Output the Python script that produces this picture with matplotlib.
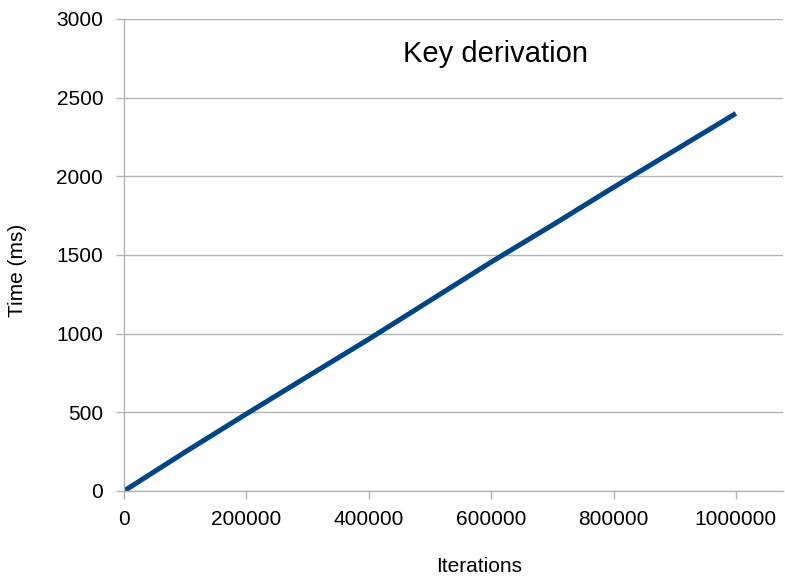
import matplotlib
matplotlib.use("Agg")
import matplotlib.pyplot as plt

plt.rcParams['font.family'] = ['Liberation Sans', 'DejaVu Sans']

# data
iterations = [0, 100000, 200000, 300000, 400000, 500000, 600000, 700000, 800000, 900000, 1000000]
time_ms = [0, 248, 490, 728, 965, 1210, 1455, 1690, 1930, 2165, 2400]

x_ticks = [0, 200000, 400000, 600000, 800000, 1000000]
y_ticks = [0, 500, 1000, 1500, 2000, 2500, 3000]

grid_col = "#b3b3b3"
W, H = 785, 586

fig = plt.figure(figsize=(W / 100, H / 100), dpi=100)
ax = fig.add_axes([124 / W, 1 - 491 / H, 659 / W, 472 / H])

ax.plot(iterations, time_ms, color="#004586", linewidth=3.6, solid_capstyle="butt")

ax.set_xlim(0, 1077000)
ax.set_ylim(0, 3000)
ax.set_xticks(x_ticks)
ax.set_yticks(y_ticks)
ax.set_xticklabels([str(v) for v in x_ticks])
ax.set_yticklabels([str(v) for v in y_ticks])

ax.yaxis.grid(True, color=grid_col, linewidth=1)
ax.set_axisbelow(True)
for s in ["top", "right"]:
    ax.spines[s].set_visible(False)
for s in ["left", "bottom"]:
    ax.spines[s].set_color(grid_col)
    ax.spines[s].set_linewidth(1)
ax.tick_params(axis="both", colors=grid_col, length=6, width=1,
               labelcolor="black", labelsize=15)
ax.tick_params(axis="x", pad=8)
ax.tick_params(axis="y", pad=9)

# axis titles placed like the LibreOffice chart
fig.text(479 / W, 1 - 572 / H, "Iterations", ha="center", va="baseline", fontsize=15)
fig.text(17.5 / W, 1 - 270 / H, "Time (ms)", ha="center", va="center",
         rotation=90, fontsize=15)

ax.text(0.563, 0.925, "Key derivation", transform=ax.transAxes,
        ha="center", va="center", fontsize=21)

fig.savefig("out.png", dpi=100)
